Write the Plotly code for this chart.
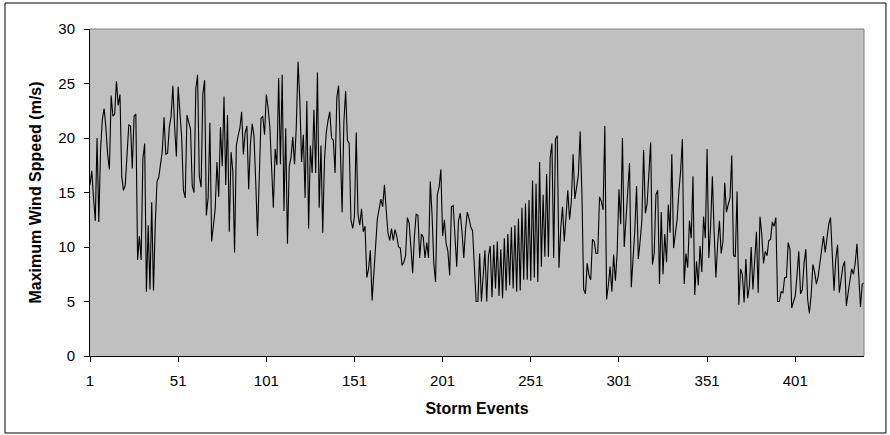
import plotly.graph_objects as go

# Maximum wind speed per storm event (m/s)
seg1 = [15.7, 17, 14.5, 12.4, 20, 12.3, 19, 21.7, 22.7, 21,
        18.5, 17.1, 23.9, 22, 22.2, 25.2, 23, 24, 16.5, 15.2,
        15.7, 19, 21.2, 21.1, 17.2, 22, 22.2, 8.8, 11, 8.8,
        18.1, 19.5, 5.9, 12, 6.1, 14.1, 6, 12, 16,
        16.4, 17.5, 18.8, 21.9, 18.5, 18.6, 21, 22]
seg2 = [24.8, 21, 18.3, 24.7, 22, 20, 15.2, 14.5, 22.1, 21.5,
        20.8, 15.6, 15, 24.5, 25.8, 16.5, 15.5, 24, 25.3, 12.9,
        14.5, 21.4, 10.5, 12, 13.5, 17.8, 14.6, 21, 17.4, 23.8,
        15.7, 22.1, 11.4, 18.7, 17, 9.5, 19.3, 20.2, 20.9, 22.4,
        18.5, 20.5, 21.1, 15.3, 19.5, 21.3, 20.2, 16, 11, 16.3,
        21.8, 22, 20.3, 24, 22.8, 21, 17.5, 13.6, 19, 17.5,
        25.5, 17.6, 25.8, 13.3, 20.9, 10.3, 17.4, 18.2, 20.1, 17.6,
        21, 27, 23.5, 17.8, 20.3, 14.5, 23.4, 11.7, 19.3, 16.8,
        22.6, 16.8, 26, 13.6, 19.3, 11.3, 18, 20.5, 21.6, 22.4,
        20, 19.8, 16.8, 23.7, 24.8, 18.5, 13.2, 21.5, 24.3, 19.8]
seg3 = [19.5, 12.5, 11.7, 12.8, 20.5, 13, 12, 13.5, 11.4, 11.9,
        7.2, 8, 9.7, 5.1, 7.3, 9.7, 12.6, 13.5, 14.4, 13.7,
        15.7, 13.4, 11.3, 10.6, 11.7, 10.6, 11.6, 11, 10, 9.9,
        8.3, 8.6, 9.2, 12.7, 12.2, 10, 7.6, 11, 13,
        12.9, 9, 11.2, 10.9, 9, 10.4, 9, 16, 13, 8.5,
        6.8, 14.8, 15.5, 17.1, 11, 12.5, 10.3, 9.6, 7.4, 13.7,
        13.8, 11, 8.2, 12.4, 13.1, 11.4, 9, 11.6, 13.2, 12.6,
        11.8, 11.5, 8.8, 5, 5, 9.4, 5, 7.5, 9.7, 5,
        9.2, 10.1, 5.4, 10.2, 6.2, 10.5, 5.5, 9.8, 5.3, 10.8,
        6, 11.2, 6.5, 11.8, 6.2, 12, 5.9, 12.6, 6, 13.6,
        7, 14, 7, 14.3, 6.9, 16.1, 7.2, 15.8, 6.8, 17.8,
        8.2, 14.8, 9.1, 16.7, 9.1, 18.2, 19.5, 9, 19.9, 20.2,
        8.1, 11.7, 13.7, 10.5, 12.6, 15.2, 12.5, 14.2, 18.5, 14.4,
        15.5, 16.6, 20.6, 15]
seg4 = [6.1, 5.7, 8.5, 7.4, 7, 10.7, 10.5, 9.4, 9.4, 14.6,
        14.2, 13.4, 21.1, 5.2, 6.5, 8.2, 5.9, 9.3, 6.9, 9.5,
        15.3, 12.1, 20, 10, 12.5, 15.7, 17.7, 6.3, 9, 11.5,
        15.6, 8.9, 10.5, 12.4, 18.9, 13.1, 14, 17, 19.6, 8.4,
        9.4, 14.8, 15.2, 6.6, 13.2, 7.5, 11.2, 8.6, 13.9, 11.3,
        18.5, 9.9, 11, 12.5, 15.1, 17, 19.9, 6.6, 9.4, 8.1,
        12.4, 10.8, 16.5, 5.6, 8.7, 6.5, 10.1, 7.7, 12.8, 10.8,
        19, 9, 11.9, 16.5, 11.3, 7.2, 10.3, 12.4, 9.4, 10.5,
        15.9, 13.2, 13.9, 14.5, 18.4, 9.2, 9.1, 15.1, 4.7, 8,
        7.5, 4.9, 8.9, 5.3, 6.4, 10, 6.1, 9.3, 11.4, 5.8,
        12.8, 11.2, 8.5, 9.6, 9.2, 10.6, 10.7, 12.3, 11.9, 12.7,
        5, 5, 5.9, 5.8, 7.2, 7.2, 10.4, 9.8, 4.4, 5,
        5.5, 7.4, 9.6, 5.7, 6.1, 8.5, 9.8, 5.3, 3.9, 5.5,
        8.4, 7.7, 6.6, 7.3, 8.4, 9.5, 11, 9.5, 10.6, 12.1,
        12.7, 8.5, 6, 8.9, 10.2, 5.8, 6.8, 8.2, 8.7, 4.6,
        5.8, 7.2, 8, 7.5, 8.5, 10.3, 7, 4.5, 6.6, 6.7]

wind_speed = seg1 + seg2 + seg3 + seg4
events = list(range(1, len(wind_speed) + 1))

x_tick_vals = [1, 51, 101, 151, 201, 251, 301, 351, 401]
y_tick_vals = [0, 5, 10, 15, 20, 25, 30]

fig = go.Figure()
fig.add_trace(go.Scatter(
    x=events, y=wind_speed, mode="lines",
    line=dict(color="black", width=1.1),
    showlegend=False, hoverinfo="skip",
))

font = "Liberation Sans, Arial, sans-serif"
fig.update_layout(
    width=890, height=435,
    margin=dict(l=90, r=26, t=29, b=79),
    paper_bgcolor="white",
    plot_bgcolor="#C0C0C0",
    font=dict(family=font, size=15, color="black"),
    xaxis=dict(
        range=[1, len(wind_speed)],
        tickmode="array", tickvals=x_tick_vals,
        ticktext=[str(v) for v in x_tick_vals],
        ticks="outside", ticklen=5, tickcolor="black", tickwidth=1,
        ticklabelstandoff=6,
        showline=True, linecolor="black", linewidth=1,
        showgrid=False, zeroline=False,
        tickfont=dict(size=15),
        title=dict(text="<b>Storm Events</b>", font=dict(size=16), standoff=14),
    ),
    # second x axis only to draw the inner half of the crossing tick marks
    xaxis2=dict(
        overlaying="x", matches="x", side="bottom", anchor="y",
        tickmode="array", tickvals=x_tick_vals,
        ticks="inside", ticklen=5, tickcolor="black", tickwidth=1,
        showticklabels=False, showline=False, showgrid=False, zeroline=False,
    ),
    yaxis=dict(
        range=[0, 30],
        tickmode="array", tickvals=y_tick_vals,
        ticks="outside", ticklen=5, tickcolor="black", tickwidth=1,
        ticklabelstandoff=6,
        showline=True, linecolor="black", linewidth=1,
        showgrid=False, zeroline=False,
        tickfont=dict(size=15),
        title=dict(text="<b>Maximum Wind Sppeed (m/s)</b>", font=dict(size=16), standoff=12),
    ),
    shapes=[
        # gray top and right border of plot area
        dict(type="line", xref="paper", yref="paper", x0=0, x1=1, y0=1, y1=1,
             line=dict(color="#808080", width=1)),
        dict(type="line", xref="paper", yref="paper", x0=1, x1=1, y0=0, y1=1,
             line=dict(color="#808080", width=1)),
        # outer chart frame
        dict(type="rect", xref="paper", yref="paper",
             x0=-0.1098, x1=1.0284, y0=-0.2355, y1=1.0795,
             line=dict(color="black", width=1), fillcolor="rgba(0,0,0,0)"),
    ],
)

fig.write_html("out.html", config={"displayModeBar": False},
               post_script="document.body.style.margin='0';")
